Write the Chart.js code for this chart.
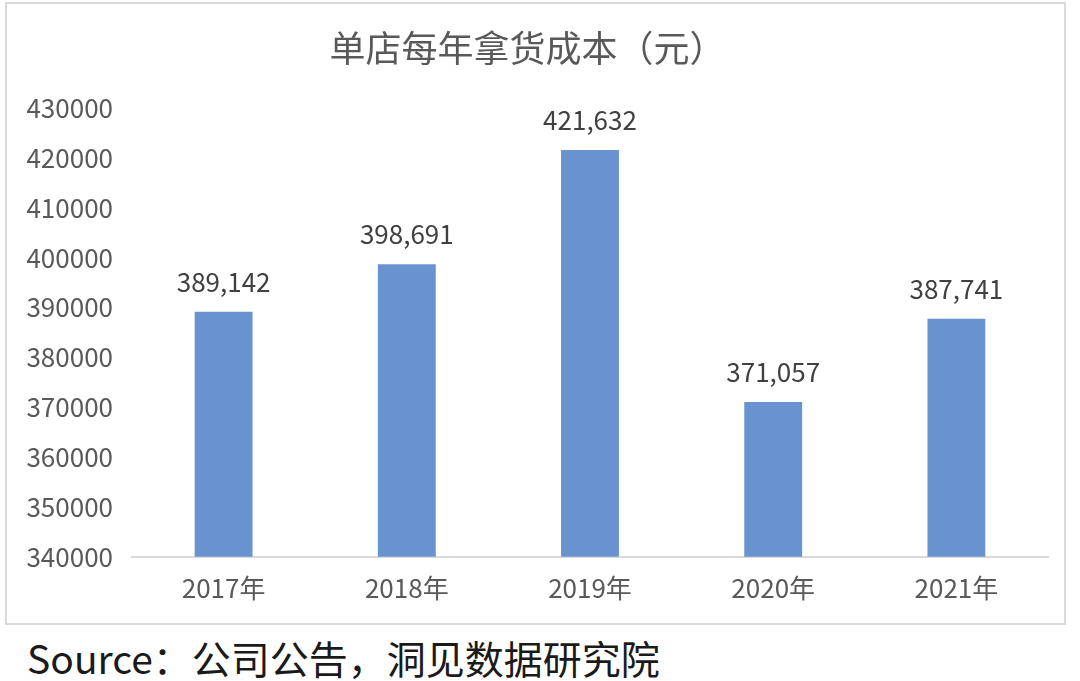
<!DOCTYPE html>
<html>
<head>
<meta charset="utf-8">
<script src="https://cdn.jsdelivr.net/npm/chart.js@4"></script>
<style>
  body { margin: 0; background: #fff; width: 1080px; height: 681px; position: relative; overflow: hidden; }
  #box { position: absolute; left: 5px; top: 2px; width: 1057px; height: 619px; border: 2px solid #d9d9d9; }
  #source { position: absolute; left: 27px; top: 631px; font: 39px "Noto Sans CJK SC", sans-serif; color: #1a1a1a; line-height: 52px; }
</style>
</head>
<body>
<div id="box"><canvas id="c" width="1057" height="619"></canvas></div>
<div id="source">Source：公司公告，洞见数据研究院</div>
<script>
'use strict'

const years = ['2017年', '2018年', '2019年', '2020年', '2021年']
const costs = [389142, 398691, 421632, 371057, 387741]
const yTicks = [340000, 350000, 360000, 370000, 380000, 390000, 400000, 410000, 420000, 430000]

const fontFamily = '"Noto Sans CJK SC", sans-serif'
const textColor = '#595959'

// labels above each bar
const barLabels = {
    id: 'barLabels',
    afterDatasetsDraw(chart){
        const ctx = chart.ctx
        const meta = chart.getDatasetMeta(0)
        ctx.save()
        ctx.font = '26px ' + fontFamily
        ctx.fillStyle = '#404040'
        ctx.textAlign = 'center'
        ctx.textBaseline = 'bottom'
        meta.data.forEach((bar, i) => {
            ctx.fillText(costs[i].toLocaleString('en-US'), bar.x, bar.y - 17)
        })
        ctx.restore()
    }
}

new Chart(document.getElementById('c'), {
    type: 'bar',
    data: {
        labels: years,
        datasets: [{
            data: costs,
            backgroundColor: '#6893cf',
            categoryPercentage: 1,
            barPercentage: 0.316
        }]
    },
    options: {
        responsive: false,
        animation: false,
        layout: { padding: { top: 23, right: 16, bottom: 3, left: 0 } },
        plugins: {
            legend: { display: false },
            tooltip: { enabled: false },
            title: {
                display: true,
                text: '单店每年拿货成本（元）',
                color: textColor,
                font: { family: fontFamily, size: 36, weight: 'normal' },
                padding: { top: 0, bottom: 38 }
            }
        },
        scales: {
            x: {
                grid: { display: false, drawTicks: false },
                border: { color: '#d9d9d9', width: 2 },
                ticks: { color: textColor, font: { family: fontFamily, size: 26 }, padding: 16 }
            },
            y: {
                min: 340000,
                max: 430000,
                afterBuildTicks(scale){ scale.ticks = yTicks.map(v => ({ value: v })) },
                afterFit(scale){ scale.width = 125 },
                grid: { display: false, drawTicks: false },
                border: { display: false },
                ticks: { color: textColor, font: { family: fontFamily, size: 26 }, padding: 19, callback: v => String(v) }
            }
        }
    },
    plugins: [barLabels]
})
</script>
</body>
</html>
